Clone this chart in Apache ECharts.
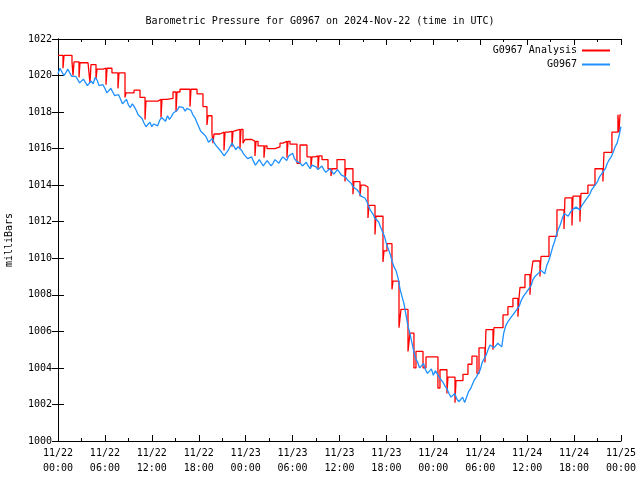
<!DOCTYPE html>
<html>
<head>
<meta charset="utf-8">
<script src="https://cdn.jsdelivr.net/npm/echarts@6/dist/echarts.min.js"></script>
<style>html,body{margin:0;padding:0;background:#fff}#c{width:640px;height:480px}</style>
</head>
<body>
<div id="c"></div>
<script>
// X tick labels (every 6 hours from 2024-11-22 00:00 UTC)
var xTickLabels = ['11/22\n00:00','11/22\n06:00','11/22\n12:00','11/22\n18:00','11/23\n00:00','11/23\n06:00','11/23\n12:00','11/23\n18:00','11/24\n00:00','11/24\n06:00','11/24\n12:00','11/24\n18:00','11/25\n00:00'];
// G0967 observations on the hour and half hour (hours 0, 0.5, ... 72)
var g0967OnHalfHour = [
 1020.1,1020.35,1020.15,1020.3,1020.05,1019.8,1019.65,1019.7,1019.5,1019.55,1019.75,1019.35,
 1019.3,1019.15,1019.1,1019.0,1018.7,1018.55,1018.4,1018.45,1018.1,1017.8,1017.4,1017.3,
 1017.2,1017.4,1017.55,1017.6,1017.8,1017.75,1017.9,1018.3,1018.25,1018.2,1018.1,1017.7,
 1017.2,1016.9,1016.6,1016.4,1016.3,1016.1,1015.8,1015.5,1016.1,1016.2,1016.1,1015.9,
 1015.6,1015.4,1015.3,1015.2,1015.3,1015.15,1015.25,1015.2,1015.35,1015.4,1015.5,1015.6,
 1015.75,1015.3,1015.2,1015.15,1015.05,1015.1,1015.0,1014.95,1014.85,1014.8,1014.75,1014.7,
 1014.75,1014.6,1014.3,1014.1,1013.8,1013.6,1013.45,1013.1,1012.6,1012.2,1012.0,1011.6,
 1010.8,1010.2,1009.5,1008.9,1007.9,1006.9,1005.9,1004.9,1004.3,1004.1,1003.9,1003.8,
 1003.6,1003.75,1003.4,1003.0,1002.6,1002.5,1002.3,1002.2,1002.1,1002.7,1003.1,1003.5,
 1003.9,1004.5,1005.0,1005.3,1005.2,1005.3,1005.9,1006.5,1006.8,1007.1,1007.4,1007.9,
 1008.2,1008.5,1009.0,1009.2,1009.3,1009.6,1010.2,1010.9,1011.6,1012.2,1012.4,1012.5,
 1012.6,1012.7,1012.9,1013.2,1013.5,1013.9,1014.2,1014.6,1014.9,1015.4,1015.8,1016.3,
 1017.2
];
// G0967 observations at quarter past / quarter to (hours 0.25, 0.75, ... 71.75)
var g0967OnQuarter = [
 1020.4,1020.0,1020.35,1019.95,1019.95,1019.6,1019.8,1019.45,1019.7,1019.9,1019.45,1019.5,
 1019.05,1019.3,1018.9,1018.95,1018.45,1018.7,1018.25,1018.3,1017.85,1017.65,1017.2,1017.45,
 1017.35,1017.25,1017.7,1017.5,1017.6,1017.95,1018.1,1018.4,1018.05,1018.3,1017.85,1017.45,
 1016.95,1016.75,1016.35,1016.55,1016.15,1015.9,1015.6,1015.9,1016.3,1015.95,1016.2,1015.7,
 1015.45,1015.55,1015.1,1015.4,1015.05,1015.35,1015.05,1015.4,1015.2,1015.55,1015.35,1015.5,
 1015.45,1015.35,1015.05,1015.25,1014.9,1015.2,1014.85,1015.05,1014.7,1014.9,1014.6,1014.85,
 1014.55,1014.45,1014.2,1013.9,1013.75,1013.4,1013.3,1012.8,1012.45,1012.15,1011.7,1011.2,
 1010.5,1009.8,1009.3,1008.3,1007.5,1006.3,1005.4,1004.5,1004.0,1004.25,1003.7,1003.95,
 1003.85,1003.5,1003.2,1002.85,1002.4,1002.6,1002.15,1002.4,1002.0,1002.85,1003.35,1003.7,
 1004.3,1004.7,1005.25,1005.1,1005.35,1005.15,1006.3,1006.6,1006.95,1007.0,1007.7,1007.95,
 1008.35,1008.85,1009.05,1009.35,1009.15,1009.85,1010.6,1011.3,1011.85,1012.45,1012.3,1012.65,
 1012.8,1012.65,1013.05,1013.3,1013.75,1014.0,1014.45,1014.7,1015.2,1015.55,1016.1,1016.7
];
// G0967 Analysis: [hours since 11/22 00:00, mb], held until the next point
var analysisPoints = [
 [0,1021.1],[0.64,1020.4],[0.77,1021.1],[1.79,1020.75],[1.92,1020.0],[2.05,1020.75],[2.69,1019.9],[2.81,1020.7],
 [3.84,1020.6],[4.09,1019.6],[4.22,1020.6],[4.86,1019.8],[4.99,1020.35],[5.75,1020.4],[6.14,1019.5],[6.27,1020.4],
 [6.9,1020.15],[7.67,1019.3],[7.8,1020.15],[8.57,1018.8],[8.7,1019.05],[9.72,1019.2],[10.49,1018.8],[11.13,1017.6],
 [11.25,1018.6],[12.79,1018.7],[13.17,1017.7],[13.3,1018.7],[13.94,1018.75],[14.71,1019.1],[15.09,1018.0],[15.22,1019.1],
 [15.6,1019.25],[16.88,1018.3],[17.01,1019.25],[17.78,1019.0],[18.54,1018.3],[19.05,1017.3],[19.18,1017.8],[19.69,1016.8],
 [19.82,1016.3],[19.95,1016.8],[20.72,1016.9],[21.23,1015.9],[21.36,1016.9],[21.74,1016.95],[22.25,1016.1],[22.38,1016.95],
 [22.63,1017.05],[23.27,1016.0],[23.4,1017.05],[23.66,1016.3],[23.91,1016.5],[24.81,1016.4],[25.19,1015.6],[25.32,1016.4],
 [25.58,1016.15],[26.34,1015.5],[26.47,1016.15],[26.73,1016.0],[27.75,1016.1],[28.39,1016.3],[28.77,1016.4],[29.28,1015.5],
 [29.41,1016.4],[29.67,1016.25],[30.56,1015.2],[30.95,1016.2],[31.84,1015.55],[32.35,1015.0],[32.48,1015.55],[32.86,1015.6],
 [33.25,1014.9],[33.38,1015.6],[33.76,1015.4],[34.53,1014.9],[34.91,1014.5],[35.04,1014.9],[35.68,1015.4],[36.7,1014.2],
 [36.83,1014.9],[37.72,1013.5],[37.85,1014.2],[38.62,1013.4],[38.75,1014.0],[39.26,1013.9],[39.64,1012.2],[39.77,1012.9],
 [40.54,1011.3],[40.66,1012.3],[41.56,1009.8],[41.69,1010.4],[42.07,1010.8],[42.71,1008.3],[42.84,1008.75],[43.61,1006.2],
 [43.86,1007.2],[44.76,1004.9],[45.01,1005.9],[45.52,1004.0],[45.78,1004.9],[46.68,1004.0],[47.06,1004.6],[48.59,1002.9],
 [48.85,1003.9],[49.74,1002.6],[49.87,1003.5],[50.77,1002.1],[50.9,1003.3],[51.79,1003.65],[52.43,1004.2],[52.94,1004.65],
 [53.58,1003.7],[53.84,1005.1],[54.6,1004.3],[54.73,1006.1],[55.63,1005.0],[55.75,1006.2],[56.91,1006.9],[57.54,1007.35],
 [58.18,1007.8],[58.82,1006.8],[58.95,1007.8],[59.08,1008.4],[59.72,1009.1],[60.36,1008.0],[60.49,1009.1],[60.74,1009.85],
 [61.64,1009.0],[61.77,1010.1],[62.79,1011.2],[63.81,1012.65],[64.71,1011.6],[64.83,1013.3],[65.73,1011.8],[65.86,1013.4],
 [66.75,1012.0],[66.88,1013.55],[67.77,1014.0],[68.67,1014.9],[69.69,1014.2],[69.82,1015.8],[70.84,1016.9],[71.61,1017.85],
 [71.74,1016.9],[71.87,1017.85],[72,1017.85]
];

var FONT = 'DejaVu Sans Mono';
var obsData = [];
for (var i = 0; i < g0967OnHalfHour.length; i++) {
  obsData.push([i * 0.5, g0967OnHalfHour[i]]);
  if (i < g0967OnQuarter.length) obsData.push([i * 0.5 + 0.25, g0967OnQuarter[i]]);
}

function ax(extra){
  var o = {
    axisLine:{show:true, lineStyle:{color:'#000', width:1}},
    axisTick:{show:true, inside:true, length:6, lineStyle:{color:'#000'}},
    splitLine:{show:false}
  };
  for (var k in extra) o[k] = extra[k];
  return o;
}

var chart = echarts.init(document.getElementById('c'), null, {renderer:'canvas'});
chart.setOption({
  animation:false,
  backgroundColor:'#fff',
  title:{text:'Barometric Pressure for G0967 on 2024-Nov-22 (time in UTC)', left:'center', top:11,
    textStyle:{fontFamily:FONT, fontSize:10, fontWeight:'normal', color:'#000'}},
  legend:{
    data:['G0967 Analysis','G0967'], orient:'vertical', align:'right', right:25, top:40,
    itemWidth:28, itemHeight:2, itemGap:3, icon:'rect', selectedMode:false,
    formatter:function(name){ var s = name; while (s.length < 14) s = ' ' + s; return s; },
    textStyle:{fontFamily:FONT, fontSize:10, color:'#000', lineHeight:11}
  },
  grid:{left:58, right:19, top:39, bottom:39, containLabel:false, outerBoundsMode:'none'},
  xAxis:[
    ax({type:'value', min:0, max:72, interval:6, position:'bottom',
      minorTick:{show:true, splitNumber:2, length:3, lineStyle:{color:'#000'}},
      axisLabel:{show:true, margin:5, fontFamily:FONT, fontSize:10, color:'#000', lineHeight:15,
        formatter:function(v){ return xTickLabels[Math.round(v/6)]; }}}),
    ax({type:'value', min:0, max:72, interval:6, position:'top',
      minorTick:{show:true, splitNumber:2, length:3, lineStyle:{color:'#000'}},
      axisLabel:{show:false}})
  ],
  yAxis:[
    ax({type:'value', min:1000, max:1022, interval:2, position:'left',
      name:'milliBars', nameLocation:'middle', nameGap:44, nameRotate:90,
      nameTextStyle:{fontFamily:FONT, fontSize:10, color:'#000'},
      axisLabel:{show:true, margin:6, fontFamily:FONT, fontSize:10, color:'#000',
        formatter:function(v){ return String(v); }}}),
    ax({type:'value', min:1000, max:1022, interval:2, position:'right', axisLabel:{show:false}})
  ],
  series:[
    {name:'G0967 Analysis', type:'line', step:'end', data:analysisPoints, showSymbol:false, symbol:'none',
     lineStyle:{color:'#ff0000', width:1.3}, itemStyle:{color:'#ff0000'}, z:2},
    {name:'G0967', type:'line', data:obsData, showSymbol:false, symbol:'none',
     lineStyle:{color:'#1e90ff', width:1.3}, itemStyle:{color:'#1e90ff'}, z:3}
  ]
});
</script>
</body>
</html>
